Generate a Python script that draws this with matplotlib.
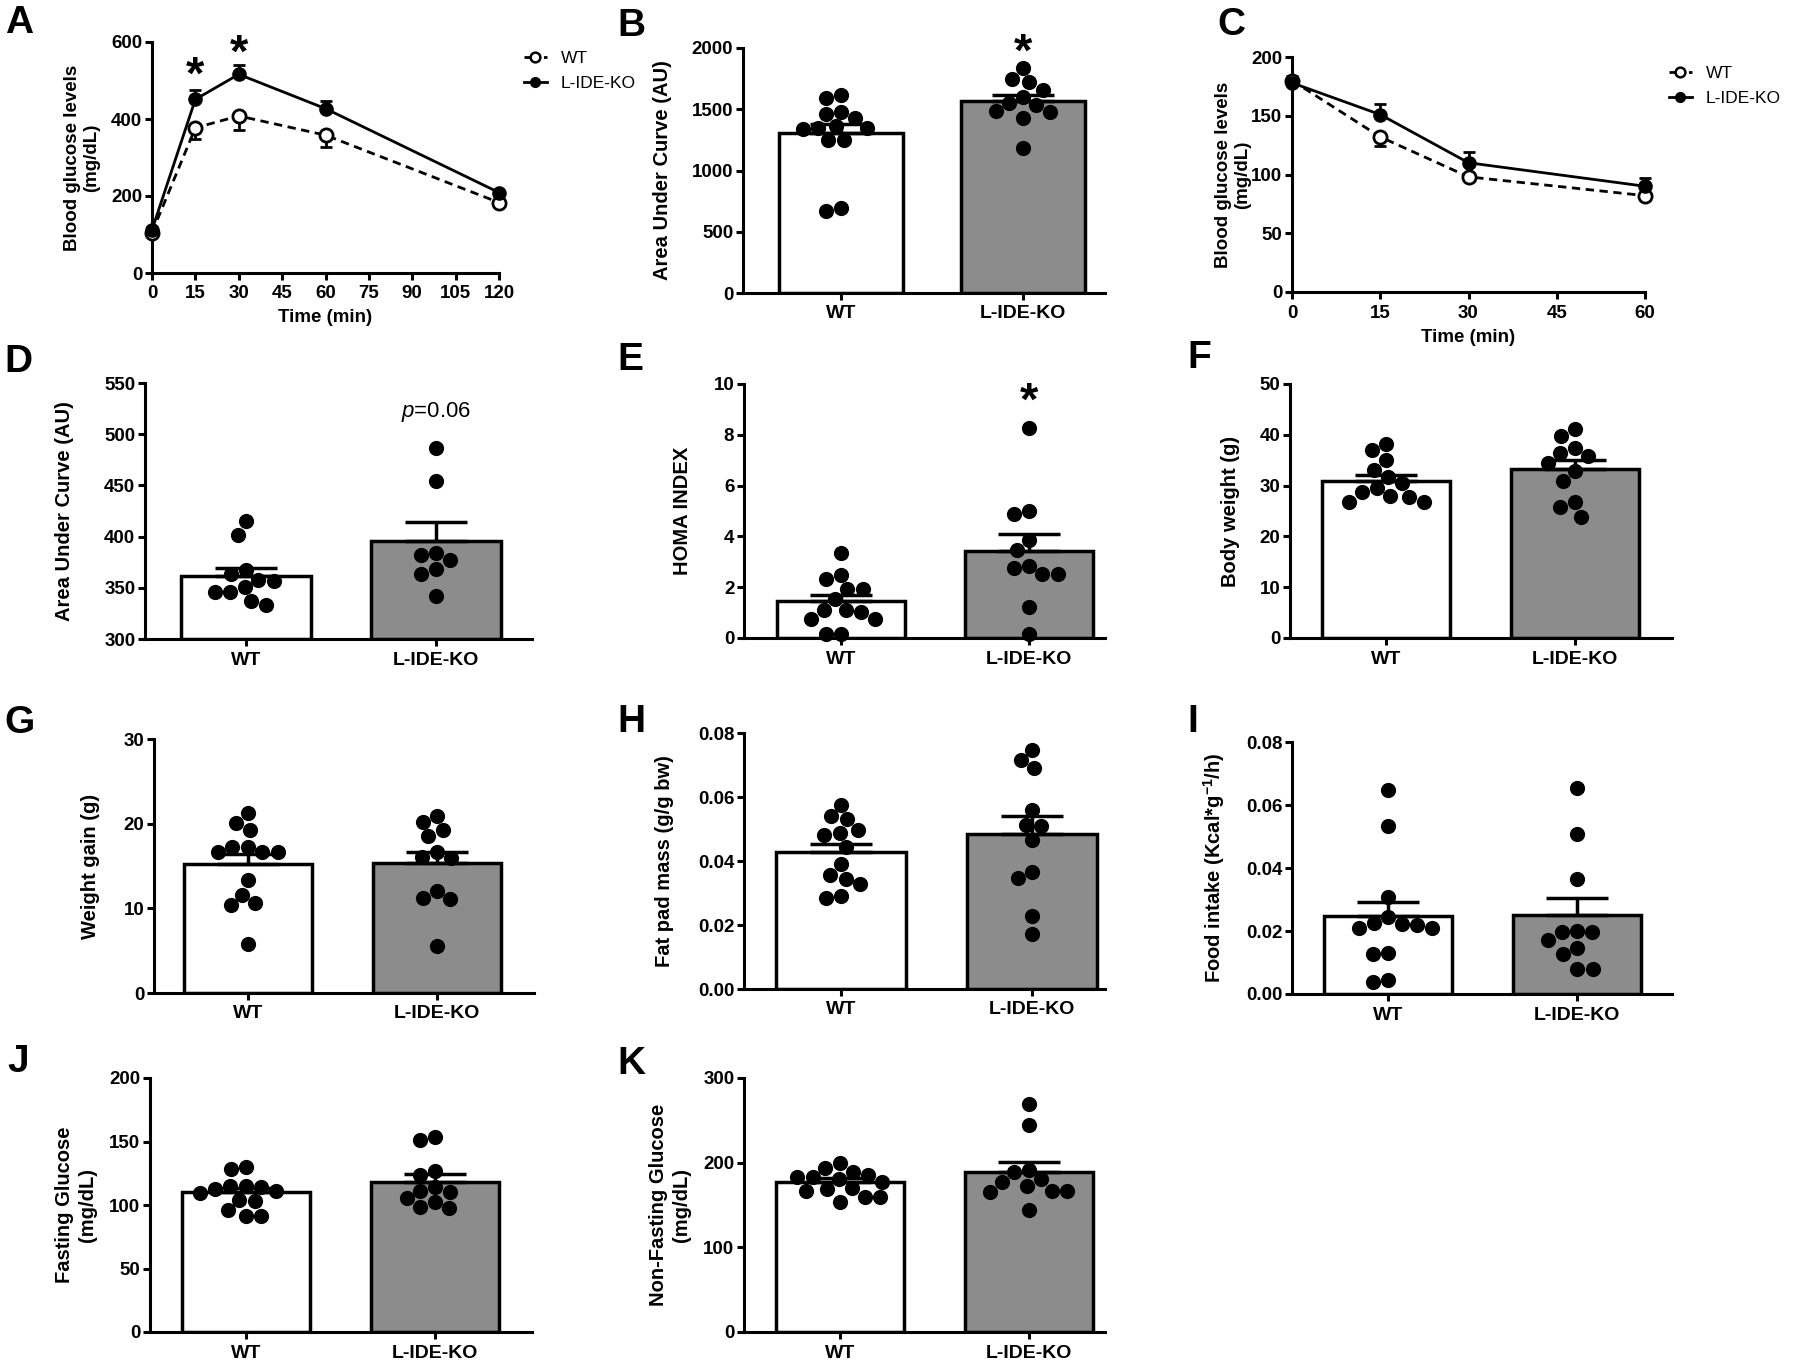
import numpy as np
import matplotlib
matplotlib.use("Agg")
import matplotlib.pyplot as plt
from matplotlib.lines import Line2D

plt.rcParams['font.family'] = ['Liberation Sans', 'DejaVu Sans']
plt.rcParams['font.weight'] = 'bold'
plt.rcParams['mathtext.fontset'] = 'custom'
plt.rcParams['mathtext.rm'] = 'Liberation Sans:regular'
plt.rcParams['mathtext.it'] = 'Liberation Sans:italic:regular'
plt.rcParams['mathtext.bf'] = 'Liberation Sans:bold'

FIG_W, FIG_H = 1800, 1366

groups = ["WT", "L-IDE-KO"]

# A: glucose tolerance test
gtt_time = [0, 15, 30, 60, 120]
gtt_wt = [105, 377, 408, 358, 183]
gtt_wt_sem = [8, 30, 37, 30, 6]
gtt_ko = [112, 451, 516, 427, 209]
gtt_ko_sem = [8, 24, 25, 20, 5]

# C: insulin tolerance test
itt_time = [0, 15, 30, 60]
itt_wt = [180, 132, 98, 82]
itt_wt_sem = [4, 8, 2, 2]
itt_ko = [178, 151, 110, 90]
itt_ko_sem = [6, 9, 9, 7]

# B: AUC of GTT
auc_gtt_wt = [1620, 1595, 1480, 1460, 1430, 1360, 1350, 1340, 1345, 1250, 1245, 670, 695]
auc_gtt_ko = [1837, 1747, 1720, 1660, 1600, 1551, 1537, 1483, 1475, 1429, 1184]
auc_gtt_mean = [1306, 1570]
auc_gtt_sem = [76, 49]

# D: AUC of ITT
auc_itt_wt = [415, 402, 367, 363, 357, 358, 351, 346, 346, 337, 333]
auc_itt_ko = [487, 454, 382, 384, 377, 368, 363, 342]
auc_itt_mean = [362, 396]
auc_itt_sem = [7, 18]

# E: HOMA index
homa_wt = [3.33, 2.47, 2.34, 1.91, 1.91, 1.55, 1.09, 1.12, 1.03, 0.76, 0.76, 0.17, 0.17]
homa_ko = [8.26, 5.01, 4.88, 3.86, 3.46, 2.83, 2.74, 2.51, 2.51, 1.22, 0.17]
homa_mean = [1.46, 3.42]
homa_sem = [0.22, 0.67]

# F: body weight
bw_wt = [38.2, 37.0, 35.1, 33.1, 31.6, 30.5, 29.5, 28.0, 27.8, 28.7, 26.8, 26.7]
bw_ko = [41.1, 39.7, 37.4, 36.5, 35.9, 34.5, 32.9, 30.9, 26.7, 25.7, 23.9]
bw_mean = [30.9, 33.3]
bw_sem = [1.1, 1.8]

# G: weight gain
gain_wt = [21.3, 20.1, 19.3, 17.3, 17.3, 16.6, 16.6, 16.6, 13.3, 11.6, 10.6, 10.4, 5.8]
gain_ko = [20.9, 20.2, 19.2, 18.5, 16.6, 16.1, 15.9, 12.0, 11.2, 11.1, 5.6]
gain_mean = [15.2, 15.35]
gain_sem = [1.2, 1.3]

# H: fat pad mass
fat_wt = [0.0576, 0.0540, 0.0531, 0.0498, 0.0488, 0.0480, 0.0444, 0.0390, 0.0355, 0.0344, 0.0328, 0.0292, 0.0284]
fat_ko = [0.0748, 0.0715, 0.0691, 0.0558, 0.0510, 0.0514, 0.0467, 0.0365, 0.0347, 0.0229, 0.0172]
fat_mean = [0.0428, 0.0485]
fat_sem = [0.0026, 0.0057]

# I: food intake
food_wt = [0.0649, 0.0533, 0.0309, 0.0245, 0.0226, 0.0219, 0.0208, 0.0211, 0.0222, 0.0129, 0.0127, 0.0044, 0.0039]
food_ko = [0.0655, 0.0509, 0.0365, 0.0201, 0.0196, 0.0198, 0.0173, 0.0145, 0.0127, 0.0078, 0.0078]
food_mean = [0.0247, 0.0250]
food_sem = [0.0046, 0.0056]

# J: fasting glucose
fast_wt = [130, 128, 115, 115, 114.5, 112.6, 111.3, 109.7, 104, 103, 96, 91.3, 91.3]
fast_ko = [153.4, 151.3, 126.8, 123.7, 114.5, 111.3, 110.5, 105.3, 102.1, 98.7, 97.4]
fast_mean = [110, 118.4]
fast_sem = [3, 5.8]

# K: non-fasting glucose
fed_wt = [200, 194, 189.5, 185, 183.6, 182.8, 180.4, 177.7, 170.5, 168.6, 167, 160, 159, 154]
fed_ko = [269.6, 244.8, 191.5, 189.5, 180.4, 176.9, 172.9, 167, 167, 165.8, 144.1]
fed_mean = [176.9, 189.5]
fed_sem = [4.7, 10.7]


fig = plt.figure(figsize=(FIG_W / 100, FIG_H / 100), dpi=100)


def add_axes(box):
    l, t, r, b = box
    return fig.add_axes([l / FIG_W, 1 - b / FIG_H, (r - l) / FIG_W, (b - t) / FIG_H])


def style(ax):
    for s in ['top', 'right']:
        ax.spines[s].set_visible(False)
    for s in ['left', 'bottom']:
        ax.spines[s].set_linewidth(2.2)
    ax.tick_params(width=2.2, length=5, labelsize=13.5, pad=2)
    ax.tick_params(axis='x', pad=4)


def set_ylabel(ax, text, offset, size=14.5):
    ax.set_ylabel(text, fontsize=size, va='center', fontweight='bold')
    w = ax.get_position().width * FIG_W
    ax.yaxis.set_label_coords(-offset / w, 0.5)


def letter(x, y, s):
    fig.text(x / FIG_W, 1 - y / FIG_H, s, fontsize=28, fontweight='bold', ha='center', va='center')


def star(ax, x, y):
    ax.annotate('*', (x, y), xytext=(0, -7), textcoords='offset points', fontsize=34,
                ha='center', va='center', annotation_clip=False)


def xl(left, right, wt, ko):
    # x limits so that the categories land where they sit in the picture
    sp = ko - wt
    return ((left - wt) / sp, 1 + (right - ko) / sp)


def swarm(ax, xc, vals, diam):
    # simple beeswarm in pixel space
    disp = ax.transData.transform(np.column_stack([np.full(len(vals), xc), vals]))
    ys = disp[:, 1]
    x0 = disp[0, 0]
    placed = []
    dxs = np.zeros(len(vals))
    for i in np.argsort(-ys, kind='stable'):
        y = ys[i]
        cands = [0.0]
        for px, py in placed:
            dy = abs(y - py)
            if dy < diam:
                w = np.sqrt(diam ** 2 - dy ** 2)
                cands += [px - w, px + w]
        cands.sort(key=abs)
        for c in cands:
            if all((c - px) ** 2 + (y - py) ** 2 >= diam ** 2 - 1e-6 for px, py in placed):
                dxs[i] = c
                placed.append((c, y))
                break
    return ax.transData.inverted().transform(np.column_stack([x0 + dxs, ys]))[:, 0]


def bar_panel(box, cats_px, wt, ko, mean, sem, ylim, yticks, ylabel, label_off, fmt="{:g}"):
    ax = add_axes(box)
    style(ax)
    ax.set_xlim(xl(box[0], box[2], *cats_px))
    ax.set_ylim(ylim)
    x = [0, 1]
    ax.bar(x, [m - ylim[0] for m in mean], bottom=ylim[0], width=0.68,
           color=['white', '#8c8c8c'], edgecolor='black', linewidth=2.5, zorder=2)
    ax.errorbar(x, mean, yerr=[[0, 0], sem], fmt='none', ecolor='black',
                elinewidth=2.5, capsize=22, capthick=2.5, zorder=3)
    for xi, vals in zip(x, [wt, ko]):
        xs = swarm(ax, xi, vals, 15.5)
        ax.scatter(xs, vals, s=120, color='black', linewidths=0, zorder=4, clip_on=False)
    ax.set_xticks(x)
    ax.set_xticklabels(groups, fontsize=14, fontweight='bold')
    ax.set_yticks(yticks)
    ax.set_yticklabels([fmt.format(t) for t in yticks], fontsize=13.5, fontweight='bold')
    set_ylabel(ax, ylabel, label_off)
    return ax


def line_panel(box, t, wt, wt_sem, ko, ko_sem, xlim, xticks, ylim, yticks, ylabel, label_off):
    ax = add_axes(box)
    style(ax)
    ax.errorbar(t, wt, yerr=[wt_sem, [0] * len(t)], fmt='none', ecolor='black',
                elinewidth=2, capsize=4, capthick=2, zorder=3, clip_on=False)
    ax.errorbar(t, ko, yerr=[[0] * len(t), ko_sem], fmt='none', ecolor='black',
                elinewidth=2, capsize=4, capthick=2, zorder=3, clip_on=False)
    ax.plot(t, wt, color='black', lw=2, ls='--', dashes=(3, 2), marker='o', ms=9.5,
            mfc='white', mec='black', mew=2, zorder=4, clip_on=False)
    ax.plot(t, ko, color='black', lw=2, marker='o', ms=9.5, zorder=5, clip_on=False)
    ax.set_xlim(xlim)
    ax.set_ylim(ylim)
    ax.set_xticks(xticks)
    ax.set_yticks(yticks)
    for lab in ax.get_xticklabels() + ax.get_yticklabels():
        lab.set_fontweight('bold')
    set_ylabel(ax, ylabel, label_off, size=13.5)
    ax.set_xlabel("Time (min)", fontsize=13.5, fontweight='bold', va='center')
    h = ax.get_position().height * FIG_H
    ax.xaxis.set_label_coords(0.5, -45 / h)
    return ax


def legend(x, y):
    h_wt = Line2D([], [], color='black', lw=2, ls='--', dashes=(2, 1.5), marker='o',
                  mfc='white', mec='black', mew=1.8, ms=7)
    h_ko = Line2D([], [], color='black', lw=2, marker='o', ms=7)
    fig.legend([h_wt, h_ko], groups, loc='center left',
               bbox_to_anchor=(x / FIG_W, 1 - y / FIG_H), frameon=False,
               prop={'size': 12.5, 'weight': 'normal'}, handlelength=1.3,
               handletextpad=0.8, labelspacing=0.55, borderpad=0, borderaxespad=0)


# A
axA = line_panel((152, 42, 499, 273), gtt_time, gtt_wt, gtt_wt_sem, gtt_ko, gtt_ko_sem,
                 (0, 120), range(0, 121, 15), (0, 600), [0, 200, 400, 600],
                 "Blood glucose levels\n(mg/dL)", 70)
star(axA, 15, 535)
star(axA, 30, 592)
legend(524, 71)

# B
axB = bar_panel((743, 48, 1105, 293), (841, 1023), auc_gtt_wt, auc_gtt_ko, auc_gtt_mean, auc_gtt_sem,
                (0, 2000), range(0, 2001, 500), "Area Under Curve (AU)", 81)
star(axB, 1, 2035)

# C
axC = line_panel((1292, 57, 1645, 292), itt_time, itt_wt, itt_wt_sem, itt_ko, itt_ko_sem,
                 (0, 60), [0, 15, 30, 45, 60], (0, 200), range(0, 201, 50),
                 "Blood glucose levels\n(mg/dL)", 59)
legend(1669, 86)

# D
axD = bar_panel((145, 383, 532, 639), (246, 436), auc_itt_wt, auc_itt_ko, auc_itt_mean, auc_itt_sem,
                (300, 550), range(300, 551, 50), "Area Under Curve (AU)", 81)
axD.text(1, 522, r'$p$=0.06', fontsize=16, fontweight='normal', ha='center', va='center')

# E
axE = bar_panel((744, 384, 1105, 638), (841, 1029), homa_wt, homa_ko, homa_mean, homa_sem,
                (0, 10), range(0, 11, 2), "HOMA INDEX", 61)
star(axE, 1, 9.64)

# F
bar_panel((1290, 384, 1672, 638), (1386, 1575), bw_wt, bw_ko, bw_mean, bw_sem,
          (0, 50), range(0, 51, 10), "Body weight (g)", 60)

# G
bar_panel((154, 739, 534, 993), (248, 437), gain_wt, gain_ko, gain_mean, gain_sem,
          (0, 30), [0, 10, 20, 30], "Weight gain (g)", 64)

# H
bar_panel((744, 733, 1105, 989), (841, 1032), fat_wt, fat_ko, fat_mean, fat_sem,
          (0, 0.08), [0, 0.02, 0.04, 0.06, 0.08], "Fat pad mass (g/g bw)", 79, fmt="{:.2f}")

# I
bar_panel((1292, 742, 1672, 994), (1388, 1577), food_wt, food_ko, food_mean, food_sem,
          (0, 0.08), [0, 0.02, 0.04, 0.06, 0.08],
          r"Food intake (Kcal*g$^{\mathbf{-1}}$/h)", 78, fmt="{:.2f}")

# J
bar_panel((150, 1078, 532, 1332), (246, 435), fast_wt, fast_ko, fast_mean, fast_sem,
          (0, 200), range(0, 201, 50), "Fasting Glucose\n(mg/dL)", 74)

# K
bar_panel((744, 1078, 1105, 1332), (840, 1029), fed_wt, fed_ko, fed_mean, fed_sem,
          (0, 300), [0, 100, 200, 300], "Non-Fasting Glucose\n(mg/dL)", 74)

for s, x, y in [("A", 19, 23), ("B", 631, 26), ("C", 1231, 25), ("D", 18, 362),
                ("E", 630, 360), ("F", 1199, 358), ("G", 20, 723), ("H", 631, 722),
                ("I", 1193, 722), ("J", 18, 1062), ("K", 631, 1064)]:
    letter(x, y, s)

fig.savefig("out.png", dpi=100, facecolor='white')
